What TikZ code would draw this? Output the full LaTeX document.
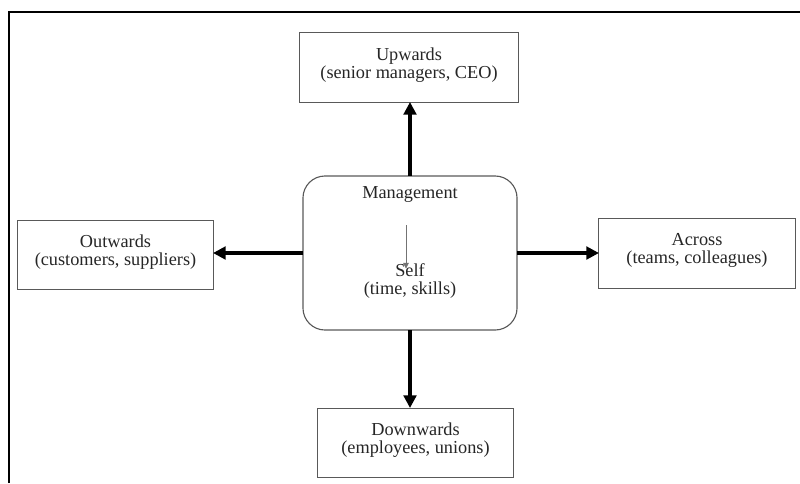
\documentclass[tikz,border=0pt]{standalone}
\usepackage{fontspec}
\setmainfont{Liberation Serif}
\usepackage{tikz}
\usetikzlibrary{arrows.meta, positioning}
\tikzstyle{block} = [draw=black!65, line width=0.7pt, fill=white, rectangle, align=center, inner sep=0pt, outer sep=0pt, text depth=6pt]
\tikzstyle{flow} = [line width=2.2pt, -{Triangle[length=9pt, width=9pt]}]

\begin{document}
\begin{tikzpicture}[x=0.025cm, y=-0.025cm, font=\fontsize{13}{12.8}\selectfont, text=black!85]
    \useasboundingbox (0,0) rectangle (800,483);
    \draw [line width=1.5pt] (9,483) -- (9,12) -- (800,12);
    \node [draw=black!65, line width=0.8pt, rounded corners=0.55cm, minimum width=5.35cm, minimum height=3.85cm, outer sep=0pt] (mgmt) at (410,253) {};
    \node (mgmttext) at (410,194) {Management};
    \node [align=center] (self) at (410,281) {Self\\(time, skills)};
    \node [block, minimum width=5.45cm, minimum height=1.75cm] (up) at (409,67) {Upwards\\(senior managers, CEO)};
    \node [block, minimum width=4.875cm, minimum height=1.725cm] (out) at (115.5,254.5) {Outwards\\(customers, suppliers)};
    \node [block, minimum width=4.9cm, minimum height=1.75cm] (across) at (697,253) {Across\\(teams, colleagues)};
    \node [block, minimum width=4.875cm, minimum height=1.725cm] (down) at (415.5,442.5) {Downwards\\(employees, unions)};
    \coordinate (selfarrow) at (406,225);
    \draw [black!55, line width=0.5pt, -{Triangle[length=4pt, width=4pt]}, shorten >=-7pt] (selfarrow) -- (selfarrow |- self.north);
    \draw [flow] (mgmt.north) -- (mgmt.north |- up.south);
    \draw [flow] (mgmt.south) -- (mgmt.south |- down.north);
    \draw [flow] (mgmt.west) -- (mgmt.west -| out.east);
    \draw [flow] (mgmt.east) -- (mgmt.east -| across.west);
\end{tikzpicture}
\end{document}
